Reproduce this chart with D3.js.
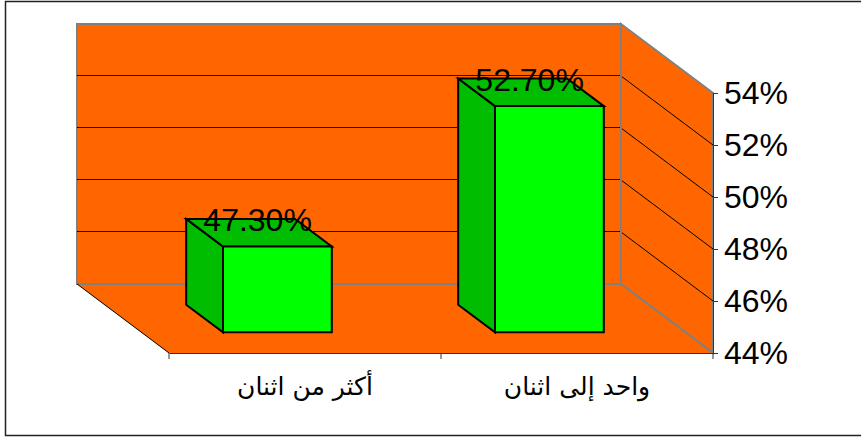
<!DOCTYPE html>
<html>
<head>
<meta charset="utf-8">
<script src="https://cdn.jsdelivr.net/npm/d3@7"></script>
<style>
    html, body { margin: 0; padding: 0; background: #fff; }
    svg { display: block; }
    text { font-family: "Liberation Sans", Arial, sans-serif; fill: #000; }
</style>
</head>
<body>
<div id="chart"></div>
<script>
const categories = ["أكثر من اثنان", "واحد إلى اثنان"];
const values = [47.3, 52.7];
const valueLabels = ["47.30%", "52.70%"];
const yTicks = [44, 46, 48, 50, 52, 54];

const width = 861, height = 437;

// front plane of the 3d box
const plot = { left: 169, right: 713, top: 93, bottom: 353 };
const depthX = 92, depthY = 69;

// d = 0 is the front plane, d = 1 the back wall
const project = (x, y, d) => [x - depthX * d, y - depthY * d];
const pts = list => list.map(p => p.join(",")).join(" ");

const xBand = d3.scaleBand()
    .domain(categories)
    .range([plot.left, plot.right])
    .paddingInner(0.6)
    .paddingOuter(0.3);

const yScale = d3.scaleLinear()
    .domain([44, 54])
    .range([plot.bottom, plot.top]);

const svg = d3.select("#chart")
    .append("svg")
    .attr("width", width)
    .attr("height", height);

// outer frame, the right side runs off the picture
svg.append("path")
    .attr("d", "M861,1.5H5.5V435.5H861")
    .attr("fill", "none")
    .attr("stroke", "#222")
    .attr("stroke-width", 1.5);

// Back wall
const yb = yScale(54), y0 = yScale(44);
svg.append("polygon")
    .attr("points", pts([
        project(plot.left, yb, 1), project(plot.right, yb, 1),
        project(plot.right, y0, 1), project(plot.left, y0, 1)]))
    .attr("fill", "#ff6600")
    .attr("stroke", "#808080")
    .attr("stroke-width", 2);

// Side wall
svg.append("polygon")
    .attr("points", pts([
        project(plot.right, yb, 1), project(plot.right, yb, 0),
        project(plot.right, y0, 0), project(plot.right, y0, 1)]))
    .attr("fill", "#ff6600")
    .attr("stroke", "#808080")
    .attr("stroke-width", 2);

// Grid lines, back wall and side wall
yTicks.slice(1, -1).forEach(t => {
    const y = yScale(t);
    const a = project(plot.left, y, 1), b = project(plot.right, y, 1), c = project(plot.right, y, 0);
    svg.append("line")
        .attr("x1", a[0]).attr("y1", a[1] - 0.5)
        .attr("x2", b[0]).attr("y2", b[1] - 0.5)
        .attr("stroke", "#000")
        .attr("stroke-width", 1)
        .attr("shape-rendering", "crispEdges");
    svg.append("line")
        .attr("x1", b[0]).attr("y1", b[1])
        .attr("x2", c[0]).attr("y2", c[1])
        .attr("stroke", "#000")
        .attr("stroke-width", 1);
});

// repaint the corner line over the grid
svg.append("line")
    .attr("x1", plot.right - depthX).attr("y1", yb - depthY)
    .attr("x2", plot.right - depthX).attr("y2", y0 - depthY)
    .attr("stroke", "#808080")
    .attr("stroke-width", 2);

// Floor
svg.append("polygon")
    .attr("points", pts([
        project(plot.left, y0, 1), project(plot.right, y0, 1),
        project(plot.right, y0, 0), project(plot.left, y0, 0)]))
    .attr("fill", "#ff6600")
    .attr("stroke", "none");
svg.append("line")
    .attr("x1", plot.left - depthX).attr("y1", y0 - depthY)
    .attr("x2", plot.right - depthX).attr("y2", y0 - depthY)
    .attr("stroke", "#808080").attr("stroke-width", 2);
svg.append("line")
    .attr("x1", plot.right - depthX).attr("y1", y0 - depthY)
    .attr("x2", plot.right).attr("y2", y0)
    .attr("stroke", "#808080").attr("stroke-width", 2);
svg.append("line")
    .attr("x1", plot.left - depthX).attr("y1", y0 - depthY)
    .attr("x2", plot.left).attr("y2", y0)
    .attr("stroke", "#000").attr("stroke-width", 1);

// Bars
const dFront = 0.3, dBack = 0.7;
categories.forEach((cat, i) => {
    const x0 = xBand(cat), x1 = x0 + xBand.bandwidth();
    const top = yScale(values[i]);

    const fbl = project(x0, y0, dFront), fbr = project(x1, y0, dFront);
    const ftl = project(x0, top, dFront), ftr = project(x1, top, dFront);
    const bbl = project(x0, y0, dBack);
    const btl = project(x0, top, dBack), btr = project(x1, top, dBack);

    const g = svg.append("g")
        .attr("stroke", "#000")
        .attr("stroke-width", 2)
        .attr("stroke-linejoin", "miter");
    g.append("polygon").attr("points", pts([bbl, btl, ftl, fbl])).attr("fill", "#00bd00");
    g.append("polygon").attr("points", pts([btl, btr, ftr, ftl])).attr("fill", "#00bd00");
    g.append("polygon").attr("points", pts([ftl, ftr, fbr, fbl])).attr("fill", "#00ff00");

    svg.append("text")
        .attr("x", (btl[0] + btr[0]) / 2 + 17)
        .attr("y", btl[1] + 12.5)
        .attr("text-anchor", "middle")
        .attr("font-size", 32)
        .text(valueLabels[i]);
});

// Y axis
const yAxis = svg.append("g")
    .attr("transform", `translate(${plot.right},0)`)
    .call(d3.axisRight(yScale)
        .tickValues(yTicks)
        .tickFormat(d => d + "%")
        .tickSize(5)
        .tickPadding(6));
yAxis.selectAll("path,line").attr("stroke", "#333");
yAxis.selectAll("text")
    .attr("font-size", 32)
    .attr("dy", "0.34em");

// X axis, ticks sit on the band edges
const xEdges = d3.scaleBand().domain(categories).range([plot.left, plot.right]);
const xAxis = svg.append("g")
    .attr("transform", `translate(0,${plot.bottom})`)
    .call(d3.axisBottom(xEdges).tickSize(0).tickPadding(24));
xAxis.select(".domain").attr("stroke", "#333");
xAxis.selectAll("text")
    .attr("font-size", 25)
    .style("font-family", '"DejaVu Sans", sans-serif');
[plot.left, plot.left + xEdges.step(), plot.right].forEach(x => {
    xAxis.append("line")
        .attr("x1", x).attr("x2", x)
        .attr("y1", 0).attr("y2", 6)
        .attr("stroke", "#333");
});
</script>
</body>
</html>
